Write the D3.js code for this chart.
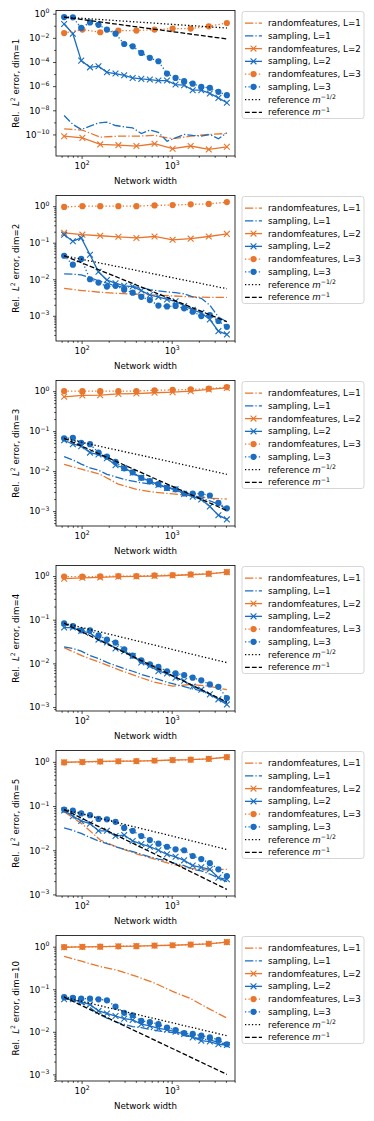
<!DOCTYPE html>
<html>
<head>
<meta charset="utf-8">
<script src="https://cdn.jsdelivr.net/npm/d3@7"></script>
<style>
  body { margin: 0; background: #fff; }
  svg { display: block; font-family: "DejaVu Sans", sans-serif; }
</style>
</head>
<body>
<svg id="chart"></svg>
<script>
// network widths (x values)
const widthsSampling = [64, 80, 99, 124, 154, 191, 238, 297, 369, 460, 572, 712, 887, 1104, 1374, 1711, 2130, 2651, 3300, 4096];
const widthsRandom = [64, 102, 161, 256, 406, 645, 1024, 1625, 2580, 4096];
const refWidths = [64, 4096];

const dims = [1, 2, 3, 4, 5, 10];

// one row per panel (dim = 1, 2, 3, 4, 5, 10)
const randomL1 = [
  [2.9e-10, 2.3e-10, 6.0e-11, 7.2e-11, 7.2e-11, 8.3e-11, 4.4e-11, 7.2e-11, 1.0e-10, 1.2e-10],
  [5.6e-3, 4.9e-3, 4.4e-3, 4.1e-3, 3.9e-3, 3.7e-3, 3.5e-3, 3.3e-3, 3.2e-3, 3.2e-3],
  [0.0148, 0.011, 8.3e-3, 4.7e-3, 3.5e-3, 2.95e-3, 2.7e-3, 2.45e-3, 2.1e-3, 2.0e-3],
  [0.023, 0.0148, 0.0105, 7.2e-3, 5.1e-3, 3.7e-3, 3.0e-3, 3.3e-3, 3.0e-3, 2.5e-3],
  [0.074, 0.039, 0.017, 0.0115, 8.3e-3, 6.3e-3, 4.8e-3, 3.9e-3, 3.55e-3, 3.7e-3],
  [0.59, 0.45, 0.34, 0.275, 0.20, 0.14, 0.089, 0.060, 0.035, 0.021]
];
const samplingL1 = [
  [3.7e-9, 6.8e-10, 2.6e-10, 4.9e-10, 9.1e-10, 1.05e-9, 5.5e-10, 4.3e-10, 3.5e-10, 1.2e-10, 2.3e-10, 1.5e-10, 2.8e-11, 5.2e-11, 1.0e-10, 8.3e-11, 7.2e-11, 1.0e-10, 4.4e-11, 1.4e-10],
  [0.0141, 0.0138, 0.0132, 0.011, 9.1e-3, 7.8e-3, 6.6e-3, 6.0e-3, 6.3e-3, 5.9e-3, 5.2e-3, 4.8e-3, 4.5e-3, 4.3e-3, 4.0e-3, 3.3e-3, 3.0e-3, 1.95e-3, 9.3e-4, 6.8e-4],
  [0.023, 0.019, 0.015, 0.012, 0.0105, 8.3e-3, 7.2e-3, 6.2e-3, 5.6e-3, 5.1e-3, 4.8e-3, 4.5e-3, 4.0e-3, 3.5e-3, 2.9e-3, 2.5e-3, 2.1e-3, 1.8e-3, 1.5e-3, 1.1e-3],
  [0.024, 0.022, 0.019, 0.0151, 0.0129, 0.0105, 8.9e-3, 7.6e-3, 6.6e-3, 5.6e-3, 4.9e-3, 4.3e-3, 3.7e-3, 3.3e-3, 2.95e-3, 2.6e-3, 2.35e-3, 1.95e-3, 1.55e-3, 1.26e-3],
  [0.032, 0.028, 0.024, 0.0195, 0.0162, 0.0141, 0.012, 0.0105, 9.3e-3, 8.1e-3, 7.1e-3, 6.3e-3, 5.75e-3, 5.0e-3, 4.5e-3, 3.7e-3, 3.4e-3, 2.9e-3, 2.35e-3, 1.95e-3],
  [0.060, 0.055, 0.048, 0.037, 0.026, 0.021, 0.017, 0.015, 0.0132, 0.0126, 0.0115, 0.0105, 0.010, 9.3e-3, 8.3e-3, 7.4e-3, 6.8e-3, 6.5e-3, 5.6e-3, 5.1e-3]
];
const randomL2 = [
  [7.2e-11, 5.2e-11, 1.5e-11, 1.3e-11, 1.1e-11, 1.7e-11, 6.6e-12, 1.1e-11, 5.8e-12, 9.5e-12],
  [0.186, 0.166, 0.155, 0.145, 0.135, 0.148, 0.12, 0.129, 0.148, 0.174],
  [0.72, 0.78, 0.79, 0.85, 0.87, 0.91, 0.94, 1.0, 1.1, 1.2],
  [0.87, 0.91, 0.93, 0.97, 0.98, 1.0, 1.03, 1.07, 1.12, 1.23],
  [0.98, 1.0, 1.02, 1.035, 1.035, 1.07, 1.1, 1.12, 1.17, 1.27],
  [0.97, 0.99, 1.0, 1.02, 1.03, 1.06, 1.08, 1.12, 1.17, 1.28]
];
const samplingL2 = [
  [0.14, 0.022, 1.3e-4, 3.6e-5, 4.5e-5, 1.4e-5, 1.1e-5, 7.9e-6, 4.8e-6, 4.0e-6, 3.5e-6, 2.9e-6, 2.9e-6, 1.35e-6, 1.2e-6, 4.6e-7, 4.6e-7, 2.5e-7, 1.07e-7, 4.2e-8],
  [0.166, 0.11, 0.135, 0.047, 0.016, 9.5e-3, 7.8e-3, 6.6e-3, 6.3e-3, 4.9e-3, 3.7e-3, 3.3e-3, 2.8e-3, 2.5e-3, 1.86e-3, 1.45e-3, 1.2e-3, 7.9e-4, 3.8e-4, 3.1e-4],
  [0.059, 0.047, 0.042, 0.029, 0.026, 0.021, 0.014, 0.012, 9.1e-3, 6.8e-3, 5.6e-3, 4.5e-3, 3.8e-3, 3.5e-3, 2.7e-3, 2.3e-3, 1.95e-3, 1.3e-3, 7.9e-4, 6.2e-4],
  [0.066, 0.066, 0.055, 0.050, 0.035, 0.030, 0.022, 0.019, 0.0148, 0.0105, 8.7e-3, 6.6e-3, 5.9e-3, 4.7e-3, 4.0e-3, 2.95e-3, 2.5e-3, 1.95e-3, 1.5e-3, 1.15e-3],
  [0.079, 0.059, 0.046, 0.040, 0.0275, 0.0275, 0.021, 0.022, 0.0162, 0.0138, 0.012, 0.010, 8.1e-3, 7.1e-3, 5.9e-3, 4.5e-3, 4.1e-3, 3.7e-3, 2.4e-3, 2.2e-3],
  [0.058, 0.058, 0.050, 0.044, 0.031, 0.027, 0.0235, 0.0204, 0.019, 0.0151, 0.0138, 0.012, 0.0112, 0.010, 8.9e-3, 7.4e-3, 6.2e-3, 5.9e-3, 5.1e-3, 4.9e-3]
];
const randomL3 = [
  [0.025, 0.048, 0.029, 0.040, 0.040, 0.048, 0.058, 0.058, 0.089, 0.17],
  [0.95, 1.0, 1.0, 1.0, 1.0, 1.05, 1.07, 1.12, 1.15, 1.29],
  [1.0, 1.0, 1.0, 1.0, 1.0, 1.05, 1.07, 1.1, 1.15, 1.26],
  [0.965, 0.965, 0.98, 1.0, 1.0, 1.035, 1.05, 1.09, 1.13, 1.23],
  [0.97, 0.99, 1.01, 1.03, 1.04, 1.06, 1.09, 1.12, 1.17, 1.28],
  [0.98, 0.99, 1.0, 1.02, 1.03, 1.06, 1.08, 1.12, 1.17, 1.28]
];
const samplingL3 = [
  [0.52, 0.50, 0.066, 0.19, 0.12, 0.048, 0.022, 3.1e-3, 2.0e-3, 5.6e-4, 2.2e-4, 1.15e-4, 1.1e-5, 4.8e-6, 2.6e-6, 1.6e-6, 8.7e-7, 7.2e-7, 3.4e-7, 1.8e-7],
  [0.044, 0.025, 0.036, 0.010, 8.1e-3, 6.3e-3, 6.6e-3, 5.2e-3, 4.3e-3, 3.3e-3, 2.7e-3, 1.9e-3, 1.8e-3, 1.86e-3, 1.6e-3, 1.3e-3, 9.8e-4, 1.05e-3, 7.2e-4, 5.0e-4],
  [0.066, 0.068, 0.051, 0.047, 0.029, 0.023, 0.017, 0.0117, 9.3e-3, 6.8e-3, 5.6e-3, 4.7e-3, 3.8e-3, 3.5e-3, 2.75e-3, 2.75e-3, 2.7e-3, 2.45e-3, 1.6e-3, 1.17e-3],
  [0.083, 0.071, 0.057, 0.057, 0.044, 0.035, 0.030, 0.021, 0.0151, 0.0117, 9.5e-3, 8.3e-3, 6.6e-3, 5.9e-3, 5.4e-3, 4.7e-3, 4.1e-3, 3.3e-3, 2.9e-3, 1.6e-3],
  [0.083, 0.079, 0.068, 0.062, 0.051, 0.050, 0.044, 0.032, 0.0275, 0.021, 0.017, 0.0141, 0.012, 0.0105, 0.010, 7.4e-3, 6.3e-3, 5.1e-3, 3.7e-3, 2.6e-3],
  [0.065, 0.063, 0.060, 0.060, 0.058, 0.055, 0.039, 0.028, 0.0245, 0.018, 0.017, 0.0151, 0.0126, 0.011, 9.3e-3, 8.9e-3, 8.1e-3, 7.4e-3, 6.5e-3, 5.1e-3]
];
// reference lines, values at the first and last width
const refHalf = [[0.52, 0.065], [0.044, 5.5e-3], [0.066, 8.3e-3], [0.083, 0.0104], [0.083, 0.0104], [0.065, 8.1e-3]];
const refOne = [[0.52, 8.1e-3], [0.044, 6.9e-4], [0.066, 1.03e-3], [0.083, 1.3e-3], [0.083, 1.3e-3], [0.065, 1.0e-3]];

const W = 374, H = 1121;
const left = 56, right = 235;
const firstTop = 10.5, panelH = 145.5, step = 185;
const blue = '#1a6dc0', orange = '#e8762c';

const series = [
  { label: 'randomfeatures, L=1', xs: widthsRandom, ys: randomL1, color: orange, dash: '8.3,2.1,1.3,2.1', marker: null },
  { label: 'sampling, L=1', xs: widthsSampling, ys: samplingL1, color: blue, dash: '8.3,2.1,1.3,2.1', marker: null },
  { label: 'randomfeatures, L=2', xs: widthsRandom, ys: randomL2, color: orange, dash: null, marker: 'x' },
  { label: 'sampling, L=2', xs: widthsSampling, ys: samplingL2, color: blue, dash: null, marker: 'x' },
  { label: 'randomfeatures, L=3', xs: widthsRandom, ys: randomL3, color: orange, dash: '1.3,2.15', marker: 'o' },
  { label: 'sampling, L=3', xs: widthsSampling, ys: samplingL3, color: blue, dash: '1.3,2.15', marker: 'o' },
  { label: 'reference', exp: '\u22121/2', xs: refWidths, ys: refHalf, color: '#000', dash: '1.3,2.15', marker: null },
  { label: 'reference', exp: '\u22121', xs: refWidths, ys: refOne, color: '#000', dash: '4.8,2.1', marker: null }
];

const svg = d3.select('#chart').attr('width', W).attr('height', H);

const supLabel = (sel, d) => {
  const e = Math.round(Math.log10(d));
  sel.text('10');
  sel.append('tspan').attr('dy', '-3.6').attr('font-size', 6.2)
    .text(e < 0 ? '\u2212' + (-e) : String(e));
};

const drawMarker = (g, m, cx, cy, color) => {
  if (m === 'o') {
    g.append('circle').attr('cx', cx).attr('cy', cy).attr('r', 3.1).attr('fill', color);
  } else if (m === 'x') {
    const s = 2.9;
    g.append('path')
      .attr('d', `M${cx - s},${cy - s}L${cx + s},${cy + s}M${cx - s},${cy + s}L${cx + s},${cy - s}`)
      .attr('stroke', color).attr('stroke-width', 1.1).attr('fill', 'none');
  }
};

const logRange = vals => {
  const lo = Math.log10(d3.min(vals)), hi = Math.log10(d3.max(vals));
  const pad = 0.05 * (hi - lo);
  return [Math.pow(10, lo - pad), Math.pow(10, hi + pad)];
};

const decadeTicks = ([a, b], sub) => {
  const out = [];
  for (let e = Math.floor(Math.log10(a)) - 1; e <= Math.ceil(Math.log10(b)); e++) {
    for (const s of sub) {
      const v = s * Math.pow(10, e);
      if (v >= a && v <= b) out.push(v);
    }
  }
  return out;
};

const x = d3.scaleLog().domain(logRange(widthsSampling)).range([left, right]);
const xMajor = decadeTicks(x.domain(), [1]);
const xMinor = decadeTicks(x.domain(), [2, 3, 4, 5, 6, 7, 8, 9]);

dims.forEach((dim, p) => {
  const top = firstTop + p * step, bottom = top + panelH;
  const allVals = series.flatMap(s => s.ys[p]);
  const y = d3.scaleLog().domain(logRange(allVals)).range([bottom, top]);

  const g = svg.append('g');

  series.forEach(s => {
    const pts = s.xs.map((w, i) => [w, s.ys[p][i]]);
    g.append('path')
      .datum(pts)
      .attr('d', d3.line().x(d => x(d[0])).y(d => y(d[1])))
      .attr('fill', 'none')
      .attr('stroke', s.color)
      .attr('stroke-width', 1.3)
      .attr('stroke-dasharray', s.dash);
    if (s.marker) pts.forEach(d => drawMarker(g, s.marker, x(d[0]), y(d[1]), s.color));
  });

  // y ticks
  const yLo = Math.log10(y.domain()[0]), yHi = Math.log10(y.domain()[1]);
  const spanDec = yHi - yLo;
  let yMajor, yMinor;
  if (spanDec > 8) {
    const all = decadeTicks(y.domain(), [1]);
    yMajor = all.filter(v => Math.round(Math.log10(v)) % 2 === 0);
    yMinor = all.filter(v => Math.round(Math.log10(v)) % 2 !== 0);
  } else {
    yMajor = decadeTicks(y.domain(), [1]);
    yMinor = decadeTicks(y.domain(), [2, 3, 4, 5, 6, 7, 8, 9]);
  }

  const styleAxis = ax => {
    ax.attr('font-size', 8.7).attr('font-family', null);
    ax.select('.domain').remove();
    ax.selectAll('line').attr('stroke-width', 0.7).attr('stroke', '#000');
    ax.selectAll('text').attr('fill', '#000');
  };

  const gxMinor = g.append('g').attr('transform', `translate(0,${bottom})`)
    .call(d3.axisBottom(x).tickValues(xMinor).tickSize(1.8).tickFormat(''));
  styleAxis(gxMinor);
  const gx = g.append('g').attr('transform', `translate(0,${bottom})`)
    .call(d3.axisBottom(x).tickValues(xMajor).tickSize(3).tickPadding(3.5).tickFormat(''));
  styleAxis(gx);
  gx.selectAll('.tick text').each(function (d) { supLabel(d3.select(this), d); });

  const gyMinor = g.append('g').attr('transform', `translate(${left},0)`)
    .call(d3.axisLeft(y).tickValues(yMinor).tickSize(1.8).tickFormat(''));
  styleAxis(gyMinor);
  const gy = g.append('g').attr('transform', `translate(${left},0)`)
    .call(d3.axisLeft(y).tickValues(yMajor).tickSize(3).tickPadding(3.5).tickFormat(''));
  styleAxis(gy);
  gy.selectAll('.tick text').each(function (d) { supLabel(d3.select(this), d); });

  // frame
  g.append('rect')
    .attr('x', left).attr('y', top).attr('width', right - left).attr('height', panelH)
    .attr('fill', 'none').attr('stroke', '#000').attr('stroke-width', 0.8);

  // axis labels
  g.append('text')
    .attr('x', (left + right) / 2).attr('y', bottom + 27.5)
    .attr('text-anchor', 'middle').attr('font-size', 8.7)
    .text('Network width');

  const yl = g.append('text')
    .attr('transform', `translate(19,${(top + bottom) / 2}) rotate(-90)`)
    .attr('text-anchor', 'middle').attr('font-size', 8.7);
  yl.append('tspan').text('Rel.\u00a0\u00a0');
  yl.append('tspan').attr('font-style', 'italic').text('L');
  yl.append('tspan').attr('dy', -3.6).attr('font-size', 6.2).text('2');
  yl.append('tspan').attr('dy', 3.6).text(' error, dim=' + dim);

  // legend
  const lg = g.append('g').attr('transform', `translate(242,${top + 1})`);
  lg.append('rect')
    .attr('width', 122).attr('height', 107).attr('rx', 2.5)
    .attr('fill', '#fff').attr('fill-opacity', 0.8)
    .attr('stroke', '#cccccc').attr('stroke-width', 0.8);
  series.forEach((s, k) => {
    const cy = 11.6 + k * 12.75;
    lg.append('line')
      .attr('x1', 3).attr('x2', 20).attr('y1', cy).attr('y2', cy)
      .attr('stroke', s.color).attr('stroke-width', 1.3)
      .attr('stroke-dasharray', s.dash);
    if (s.marker) drawMarker(lg, s.marker, 11.5, cy, s.color);
    const t = lg.append('text').attr('x', 26).attr('y', cy + 3.1).attr('font-size', 8.7);
    if (s.exp) {
      t.append('tspan').text(s.label + ' ');
      t.append('tspan').attr('font-style', 'italic').text('m');
      t.append('tspan').attr('dy', -3.6).attr('font-size', 6.2).text(s.exp);
    } else {
      t.text(s.label);
    }
  });
});
</script>
</body>
</html>
